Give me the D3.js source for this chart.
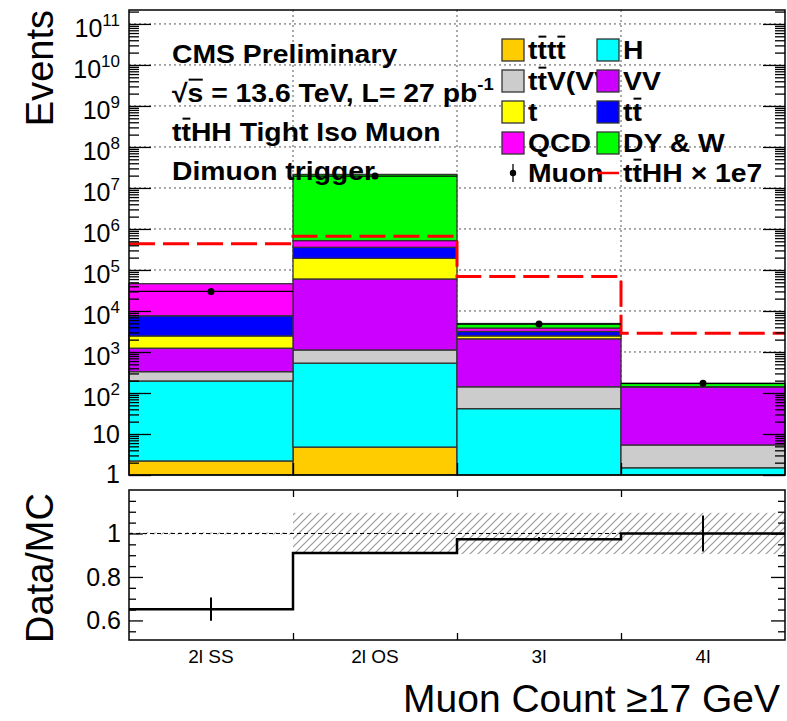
<!DOCTYPE html>
<html>
<head>
<meta charset="utf-8">
<script src="https://cdn.jsdelivr.net/npm/d3@7"></script>
<style>
  body { margin: 0; background: #fff; }
  svg text { font-family: "Liberation Sans", Arial, Helvetica, sans-serif; }
</style>
</head>
<body>
<div id="chart"></div>
<script>
// bins and per-process yields
const bins = ["2l SS", "2l OS", "3l", "4l"];
const tttt = [2.2, 4.8, 0.5, 0.2];
const higgs = [194, 530, 41, 1.3];
const ttV = [135, 585, 100, 3.9];
const vv = [904, 59180, 1948, 135.6];
const single_t = [1225, 131700, 380, 0.4];
const ttbar = [5180, 165000, 690, 0.6];
const qcd = [38560, 163000, 660, 0.5];
const dyw = [0, 20880000, 1120, 28];
const dataMuon = [30000, 19500000, 4800, 172];
const ttHHx1e7 = [433000, 660000, 69000, 2880];
const ratio = [0.652, 0.91, 0.974, 1.0];
const ratioErr = [0.054, 0.003, 0.01, 0.083];
const bandErr = [0.005, 0.095, 0.095, 0.095];
const decades = [1, 10, 1e2, 1e3, 1e4, 1e5, 1e6, 1e7, 1e8, 1e9, 1e10, 1e11];

const procs = [
  {key: "tttt", vals: tttt, color: "#ffcc00"},
  {key: "H", vals: higgs, color: "#00ffff"},
  {key: "ttV", vals: ttV, color: "#cccccc"},
  {key: "VV", vals: vv, color: "#cc00ff"},
  {key: "t", vals: single_t, color: "#ffff00"},
  {key: "tt", vals: ttbar, color: "#0000ff"},
  {key: "QCD", vals: qcd, color: "#ff00ff"},
  {key: "DYW", vals: dyw, color: "#00ff00"}
];

var W = 787, H = 721;
var left = 129, right = 785;
var top1 = 10, bot1 = 475, top2 = 490, bot2 = 640;
var wide = 1.09; // the bold labels are drawn a bit wider than Liberation Sans

var svg = d3.select("#chart").append("svg")
    .attr("width", W).attr("height", H);
svg.append("rect").attr("width", W).attr("height", H).attr("fill", "#fff");

var x = d3.scaleLinear().domain([0, bins.length]).range([left, right]);
var y = d3.scaleLog().domain([1, Math.pow(10, 11.34)]).range([bot1, top1]).clamp(true);
var yr = d3.scaleLinear().domain([0.51, 1.2]).range([bot2, top2]);

// ---- helper for text with overbars / superscripts
function rich(sel, px, py, segs, size, weight, anchor) {
    var t = sel.append("text").attr("x", px).attr("y", py)
        .attr("font-size", size).attr("font-weight", weight || "normal")
        .attr("text-anchor", anchor || "start");
    var idx = 0, bars = [], shifted = 0;
    segs.forEach(function(s) {
        var ts = t.append("tspan").text(s.t);
        if (s.sup) {
            ts.attr("font-size", s.sup).attr("dy", -s.up);
            shifted = s.up;
        } else if (shifted) {
            ts.attr("dy", shifted);
            shifted = 0;
        }
        if (s.bar) for (var i = 0; i < s.t.length; i++) bars.push(idx + i);
        idx += s.t.length;
    });
    bars.forEach(function(i) {
        var a = t.node().getStartPositionOfChar(i), b = t.node().getEndPositionOfChar(i);
        sel.append("line")
            .attr("x1", a.x + 1).attr("x2", b.x - 0.5)
            .attr("y1", py - size * 0.86).attr("y2", py - size * 0.86)
            .attr("stroke", "#000").attr("stroke-width", weight == "bold" ? 2 : 1.3);
    });
    return t;
}
function stretched(sel, px) {
    return sel.append("g").attr("transform",
        "translate(" + px + ",0) scale(" + wide + ",1) translate(" + (-px) + ",0)");
}

// ---- upper panel grid
var grid = svg.append("g").attr("stroke", "#555").attr("stroke-dasharray", "2,3").attr("stroke-width", 1);
grid.selectAll(".hg").data(decades.slice(1)).enter().append("line")
    .attr("x1", left).attr("x2", right)
    .attr("y1", d => y(d)).attr("y2", d => y(d));
grid.selectAll(".vg").data([1, 2, 3]).enter().append("line")
    .attr("x1", d => x(d)).attr("x2", d => x(d))
    .attr("y1", top1).attr("y2", bot1);

// ---- stacked histogram
var rows = bins.map(function(b, i) {
    var r = {bin: i};
    procs.forEach(p => r[p.key] = p.vals[i]);
    return r;
});
var stack = d3.stack().keys(procs.map(p => p.key))(rows);
var sg = svg.append("g");
stack.forEach(function(layer, li) {
    sg.selectAll(".l" + li).data(layer).enter().append("rect")
        .attr("x", d => x(d.data.bin))
        .attr("width", x(1) - x(0))
        .attr("y", d => y(Math.max(d[1], 1)))
        .attr("height", d => Math.max(0, y(Math.max(d[0], 1)) - y(Math.max(d[1], 1))))
        .attr("fill", procs[li].color)
        .attr("stroke", d => d[1] - d[0] > 0 && d[1] > 1 ? "#333" : "none")
        .attr("stroke-width", 1.3);
});

// ---- signal (ttHH x 1e7) dashed step line
var stepPts = ttHHx1e7.map((v, i) => [i, v]).concat([[bins.length, ttHHx1e7[bins.length - 1]]]);
var stepLine = d3.line().curve(d3.curveStepAfter).x(d => x(d[0])).y(d => y(d[1]));
svg.append("path").datum(stepPts)
    .attr("d", stepLine)
    .attr("fill", "none").attr("stroke", "#ff0000").attr("stroke-width", 3)
    .attr("stroke-dasharray", "26,8");

// ---- data points
var dg = svg.append("g");
dg.selectAll("line").data(dataMuon).enter().append("line")
    .attr("x1", (d, i) => x(i)).attr("x2", (d, i) => x(i + 1))
    .attr("y1", d => y(d)).attr("y2", d => y(d))
    .attr("stroke", "#000").attr("stroke-width", 1.2);
dg.selectAll("circle").data(dataMuon).enter().append("circle")
    .attr("cx", (d, i) => x(i + 0.5)).attr("cy", d => y(d)).attr("r", 3.5)
    .attr("fill", "#000");

// ---- upper frame and ticks
var minors = [];
for (var e = 0; e <= 11; e++) for (var k = 2; k <= 9; k++) {
    var v = k * Math.pow(10, e);
    if (v < y.domain()[1]) minors.push(v);
}
function axisTicks(g, axis) {
    g.call(axis);
    g.select(".domain").remove();
    g.selectAll(".tick line").attr("stroke", "#000").attr("stroke-width", 1.3);
}
svg.append("g").attr("transform", "translate(" + left + ",0)")
    .call(g => axisTicks(g, d3.axisLeft(y).tickValues(decades).tickSize(-22).tickFormat("")));
svg.append("g").attr("transform", "translate(" + left + ",0)")
    .call(g => axisTicks(g, d3.axisLeft(y).tickValues(minors).tickSize(-10).tickFormat("")));
svg.append("g").attr("transform", "translate(" + right + ",0)")
    .call(g => axisTicks(g, d3.axisRight(y).tickValues(decades).tickSize(-22).tickFormat("")));
svg.append("g").attr("transform", "translate(" + right + ",0)")
    .call(g => axisTicks(g, d3.axisRight(y).tickValues(minors).tickSize(-10).tickFormat("")));
svg.append("g").attr("transform", "translate(0," + bot1 + ")")
    .call(g => axisTicks(g, d3.axisBottom(x).tickValues([1, 2, 3]).tickSize(-12).tickFormat("")));
svg.append("rect").attr("x", left).attr("y", top1)
    .attr("width", right - left).attr("height", bot1 - top1)
    .attr("fill", "none").attr("stroke", "#000").attr("stroke-width", 1.5);

// decade labels
var lab = svg.append("g");
decades.forEach(function(d) {
    var e = Math.round(Math.log10(d));
    if (e == 0) rich(lab, 120, y(d) + 8, [{t: "1"}], 25, "normal", "end");
    else if (e == 1) rich(lab, 120, y(d) + 9, [{t: "10"}], 25, "normal", "end");
    else rich(lab, 120, y(d) + 13, [{t: "10"}, {t: String(e), sup: 17, up: 11}], 25, "normal", "end");
});

svg.append("text").attr("transform", "translate(53," + top1 + ") rotate(-90)")
    .attr("text-anchor", "end").attr("font-size", 38).text("Events");

// ---- ratio panel
var defs = svg.append("defs");
defs.append("pattern").attr("id", "hatch").attr("patternUnits", "userSpaceOnUse")
    .attr("width", 8).attr("height", 8)
    .append("path").attr("d", "M-2,2 l4,-4 M0,8 l8,-8 M6,10 l4,-4")
    .attr("stroke", "#999").attr("stroke-width", 1.2);

svg.selectAll(".band").data(bandErr).enter().append("rect")
    .attr("x", (d, i) => x(i)).attr("width", x(1) - x(0))
    .attr("y", d => yr(1 + d)).attr("height", d => yr(1 - d) - yr(1 + d))
    .attr("fill", "url(#hatch)");

svg.append("line").attr("x1", left).attr("x2", right)
    .attr("y1", yr(1)).attr("y2", yr(1))
    .attr("stroke", "#000").attr("stroke-width", 1).attr("stroke-dasharray", "4,3");

var rPts = ratio.map((v, i) => [i, v]).concat([[bins.length, ratio[bins.length - 1]]]);
svg.append("path").datum(rPts)
    .attr("d", d3.line().curve(d3.curveStepAfter).x(d => x(d[0])).y(d => yr(d[1])))
    .attr("fill", "none").attr("stroke", "#000").attr("stroke-width", 2.5);
svg.selectAll(".rerr").data(ratio).enter().append("line")
    .attr("x1", (d, i) => x(i + 0.5)).attr("x2", (d, i) => x(i + 0.5))
    .attr("y1", (d, i) => yr(d + ratioErr[i])).attr("y2", (d, i) => yr(d - ratioErr[i]))
    .attr("stroke", "#000").attr("stroke-width", 2);

var rMinor = d3.range(0.55, 1.19, 0.05).filter(v => [0.6, 0.8, 1.0].every(m => Math.abs(m - v) > 1e-6));
svg.append("g").attr("transform", "translate(" + left + ",0)")
    .call(g => axisTicks(g, d3.axisLeft(yr).tickValues([0.6, 0.8, 1.0]).tickSize(-14).tickFormat("")));
svg.append("g").attr("transform", "translate(" + left + ",0)")
    .call(g => axisTicks(g, d3.axisLeft(yr).tickValues(rMinor).tickSize(-7).tickFormat("")));
svg.append("g").attr("transform", "translate(" + right + ",0)")
    .call(g => axisTicks(g, d3.axisRight(yr).tickValues([0.6, 0.8, 1.0]).tickSize(-14).tickFormat("")));
svg.append("g").attr("transform", "translate(" + right + ",0)")
    .call(g => axisTicks(g, d3.axisRight(yr).tickValues(rMinor).tickSize(-7).tickFormat("")));
svg.append("g").attr("transform", "translate(0," + bot2 + ")")
    .call(g => axisTicks(g, d3.axisBottom(x).tickValues([1, 2, 3]).tickSize(-7).tickFormat("")));
svg.append("g").attr("transform", "translate(0," + top2 + ")")
    .call(g => axisTicks(g, d3.axisTop(x).tickValues([1, 2, 3]).tickSize(-7).tickFormat("")));
svg.append("rect").attr("x", left).attr("y", top2)
    .attr("width", right - left).attr("height", bot2 - top2)
    .attr("fill", "none").attr("stroke", "#000").attr("stroke-width", 1.5);

[0.6, 0.8, 1.0].forEach(function(v) {
    svg.append("text").attr("x", 121).attr("y", yr(v) + 9)
        .attr("text-anchor", "end").attr("font-size", 25)
        .text(v == 1 ? "1" : String(v));
});
svg.selectAll(".blab").data(bins).enter().append("text")
    .attr("x", (d, i) => x(i + 0.5)).attr("y", 663)
    .attr("text-anchor", "middle").attr("font-size", 19).text(d => d);

svg.append("text").attr("transform", "translate(53," + (bot2 + 3) + ") rotate(-90)")
    .attr("font-size", 38).text("Data/MC");
svg.append("text").attr("x", 780).attr("y", 712).attr("text-anchor", "end")
    .attr("font-size", 39).text("Muon Count \u226517 GeV");

// ---- CMS label block
var tb = stretched(svg, 172);
rich(tb, 172, 63, [{t: "CMS Preliminary"}], 26, "bold");
rich(tb, 172, 102, [{t: "\u221A"}, {t: "s", bar: true}, {t: " = 13.6 TeV, L= 27 pb"}, {t: "-1", sup: 17, up: 12}], 26, "bold");
rich(tb, 172, 141, [{t: "t"}, {t: "t", bar: true}, {t: "HH Tight Iso Muon"}], 26, "bold");
rich(tb, 172, 180, [{t: "Dimuon trigger"}], 26, "bold");

// ---- legend
var leg = svg.append("g");
defs.append("clipPath").attr("id", "col1clip").append("rect")
    .attr("x", 500).attr("y", 0).attr("width", 97).attr("height", 200);
var legCol1 = stretched(leg.append("g").attr("clip-path", "url(#col1clip)"), 528);
var legMuon = stretched(leg, 528);
var legCol2 = stretched(leg, 623);
var legRows = [50, 81, 112, 143, 173];
var legBox = [
    {col: 0, row: 0, p: 0, segs: [{t: "t"}, {t: "t", bar: true}, {t: "t"}, {t: "t", bar: true}]},
    {col: 0, row: 1, p: 2, segs: [{t: "t"}, {t: "t", bar: true}, {t: "V(VV)"}]},
    {col: 0, row: 2, p: 4, segs: [{t: "t"}]},
    {col: 0, row: 3, p: 6, segs: [{t: "QCD"}]},
    {col: 1, row: 0, p: 1, segs: [{t: "H"}]},
    {col: 1, row: 1, p: 3, segs: [{t: "VV"}]},
    {col: 1, row: 2, p: 5, segs: [{t: "t"}, {t: "t", bar: true}]},
    {col: 1, row: 3, p: 7, segs: [{t: "DY & W"}]}
];
legBox.forEach(function(e) {
    var g = e.col == 0 ? legCol1 : legCol2;
    rich(g, e.col == 0 ? 528 : 623, legRows[e.row] + 9, e.segs, 26, "bold");
});
legBox.forEach(function(e) {
    leg.append("rect").attr("x", e.col == 0 ? 502 : 597).attr("y", legRows[e.row] - 11)
        .attr("width", 22).attr("height", 22)
        .attr("fill", procs[e.p].color).attr("stroke", "#333").attr("stroke-width", 1.3);
});
leg.append("line").attr("x1", 513).attr("x2", 513)
    .attr("y1", legRows[4] - 9).attr("y2", legRows[4] + 9).attr("stroke", "#000").attr("stroke-width", 1.3);
leg.append("circle").attr("cx", 513).attr("cy", legRows[4]).attr("r", 3.2).attr("fill", "#000");
rich(legMuon, 528, legRows[4] + 9, [{t: "Muon"}], 26, "bold");
leg.append("line").attr("x1", 597).attr("x2", 619)
    .attr("y1", legRows[4]).attr("y2", legRows[4]).attr("stroke", "#ff0000").attr("stroke-width", 2.5);
rich(legCol2, 623, legRows[4] + 9, [{t: "t"}, {t: "t", bar: true}, {t: "HH \u00D7 1e7"}], 26, "bold");
</script>
</body>
</html>
